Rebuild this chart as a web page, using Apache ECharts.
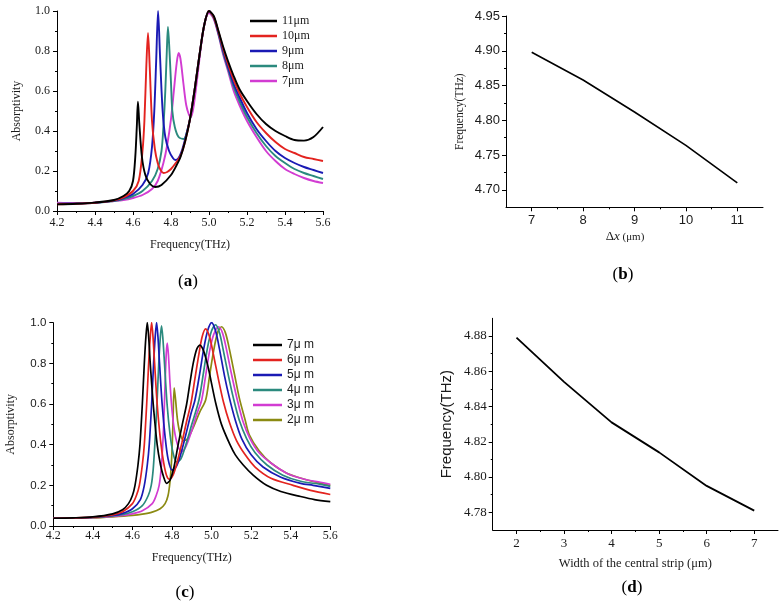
<!DOCTYPE html>
<html><head><meta charset="utf-8">
<script src="https://cdn.jsdelivr.net/npm/echarts@6/dist/echarts.min.js"></script>
<style>html,body{margin:0;padding:0;background:#fff}#c{width:784px;height:609px}</style>
</head><body><div id="c"></div>
<script>
// ---------- Panel (a): absorptivity vs frequency for different Δx ----------
const aNames = ['11μm', '10μm', '9μm', '8μm', '7μm'];
const a11 = [[4.20,0.033],[4.30,0.036],[4.40,0.042],[4.50,0.055],[4.55,0.075],[4.58,0.10],[4.60,0.15],[4.612,0.27],[4.62,0.42],[4.626,0.546],[4.633,0.44],[4.647,0.27],[4.665,0.18],[4.69,0.135],[4.717,0.12],[4.75,0.13],[4.80,0.18],[4.83,0.23],[4.85,0.27],[4.875,0.35],[4.90,0.46],[4.925,0.61],[4.95,0.78],[4.975,0.93],[5.00,1.00],[5.025,0.975],[5.05,0.90],[5.075,0.82],[5.10,0.75],[5.13,0.675],[5.16,0.61],[5.20,0.55],[5.25,0.485],[5.30,0.435],[5.35,0.40],[5.40,0.375],[5.45,0.355],[5.50,0.352],[5.55,0.37],[5.60,0.42]];
const a10 = [[4.20,0.034],[4.30,0.036],[4.40,0.041],[4.50,0.053],[4.55,0.068],[4.60,0.10],[4.63,0.15],[4.65,0.30],[4.66,0.45],[4.67,0.72],[4.679,0.89],[4.688,0.72],[4.70,0.45],[4.715,0.31],[4.73,0.24],[4.745,0.205],[4.761,0.19],[4.78,0.195],[4.80,0.21],[4.825,0.24],[4.85,0.275],[4.875,0.35],[4.90,0.46],[4.925,0.61],[4.95,0.78],[4.975,0.93],[5.00,1.00],[5.025,0.97],[5.05,0.895],[5.075,0.81],[5.10,0.735],[5.13,0.655],[5.16,0.59],[5.20,0.52],[5.25,0.445],[5.30,0.39],[5.35,0.345],[5.40,0.31],[5.45,0.29],[5.50,0.27],[5.55,0.26],[5.60,0.25]];
const a9 = [[4.20,0.035],[4.30,0.037],[4.40,0.041],[4.50,0.052],[4.55,0.065],[4.60,0.085],[4.65,0.13],[4.68,0.19],[4.70,0.32],[4.712,0.50],[4.722,0.75],[4.732,1.00],[4.742,0.78],[4.756,0.50],[4.77,0.37],[4.79,0.30],[4.81,0.265],[4.823,0.255],[4.84,0.265],[4.86,0.31],[4.88,0.38],[4.90,0.46],[4.925,0.61],[4.95,0.78],[4.975,0.93],[5.00,1.00],[5.025,0.97],[5.05,0.89],[5.075,0.80],[5.10,0.72],[5.13,0.635],[5.16,0.57],[5.20,0.49],[5.25,0.41],[5.30,0.35],[5.35,0.30],[5.40,0.265],[5.45,0.24],[5.50,0.22],[5.55,0.205],[5.60,0.19]];
const a8 = [[4.20,0.036],[4.30,0.038],[4.40,0.041],[4.50,0.05],[4.55,0.06],[4.60,0.075],[4.65,0.10],[4.70,0.15],[4.73,0.21],[4.75,0.30],[4.76,0.42],[4.77,0.60],[4.778,0.80],[4.784,0.92],[4.792,0.80],[4.80,0.64],[4.807,0.50],[4.82,0.42],[4.84,0.37],[4.867,0.36],[4.885,0.40],[4.90,0.46],[4.925,0.61],[4.95,0.78],[4.975,0.93],[5.00,1.00],[5.025,0.965],[5.05,0.885],[5.075,0.79],[5.10,0.71],[5.13,0.62],[5.16,0.55],[5.20,0.47],[5.25,0.39],[5.30,0.325],[5.35,0.275],[5.40,0.24],[5.45,0.21],[5.50,0.19],[5.55,0.175],[5.60,0.16]];
const a7 = [[4.20,0.042],[4.30,0.04],[4.40,0.042],[4.50,0.05],[4.55,0.055],[4.60,0.065],[4.65,0.08],[4.70,0.11],[4.73,0.15],[4.76,0.24],[4.78,0.33],[4.80,0.46],[4.815,0.60],[4.83,0.74],[4.84,0.79],[4.85,0.76],[4.865,0.64],[4.88,0.53],[4.895,0.48],[4.905,0.47],[4.92,0.53],[4.94,0.68],[4.96,0.84],[4.98,0.95],[5.00,0.99],[5.025,0.96],[5.05,0.88],[5.075,0.78],[5.10,0.70],[5.13,0.60],[5.16,0.53],[5.20,0.45],[5.25,0.37],[5.30,0.30],[5.35,0.25],[5.40,0.21],[5.45,0.185],[5.50,0.165],[5.55,0.15],[5.60,0.14]];

// ---------- Panel (b): resonance frequency vs Δx ----------
const bX = [7, 8, 9, 10, 11];
const bY = [4.898, 4.858, 4.812, 4.764, 4.710];
const bXTicks = [7, 8, 9, 10, 11];
const bXMinor = [7.5, 8.5, 9.5, 10.5];
const bYTicks = [4.70, 4.75, 4.80, 4.85, 4.90, 4.95];
const bYMinor = [4.725, 4.775, 4.825, 4.875, 4.925];

// ---------- Panel (c): absorptivity vs frequency for central strip width ----------
const cNames = ['7μ m', '6μ m', '5μ m', '4μ m', '3μ m', '2μ m'];
const c7 = [[4.2,0.038],[4.3,0.04],[4.4,0.045],[4.5,0.06],[4.55,0.08],[4.58,0.11],[4.6,0.15],[4.613,0.2],[4.628,0.3],[4.638,0.4],[4.65,0.6],[4.66,0.8],[4.668,0.93],[4.675,1.0],[4.682,0.93],[4.69,0.8],[4.705,0.6],[4.725,0.4],[4.742,0.3],[4.758,0.24],[4.773,0.21],[4.79,0.225],[4.81,0.29],[4.831,0.4],[4.852,0.5],[4.874,0.6],[4.89,0.7],[4.907,0.8],[4.925,0.87],[4.941,0.89],[4.96,0.86],[4.983,0.78],[5.0,0.70],[5.022,0.60],[5.05,0.50],[5.093,0.40],[5.12,0.35],[5.16,0.30],[5.21,0.25],[5.278,0.20],[5.35,0.17],[5.45,0.145],[5.52,0.13],[5.6,0.12]];
const c6 = [[4.2,0.038],[4.3,0.04],[4.4,0.044],[4.5,0.055],[4.55,0.07],[4.6,0.11],[4.62,0.15],[4.635,0.2],[4.65,0.3],[4.66,0.4],[4.672,0.6],[4.682,0.8],[4.69,0.93],[4.697,1.0],[4.704,0.93],[4.712,0.8],[4.725,0.6],[4.742,0.42],[4.758,0.31],[4.772,0.25],[4.787,0.23],[4.805,0.25],[4.825,0.31],[4.85,0.41],[4.875,0.52],[4.895,0.6],[4.915,0.72],[4.935,0.84],[4.952,0.93],[4.97,0.97],[4.99,0.93],[5.01,0.84],[5.035,0.72],[5.06,0.61],[5.09,0.51],[5.126,0.42],[5.17,0.35],[5.22,0.29],[5.3,0.235],[5.412,0.20],[5.5,0.175],[5.6,0.155]];
const c5 = [[4.2,0.038],[4.3,0.04],[4.4,0.043],[4.5,0.052],[4.55,0.062],[4.6,0.085],[4.64,0.13],[4.66,0.2],[4.675,0.3],[4.685,0.4],[4.697,0.6],[4.707,0.8],[4.715,0.93],[4.722,1.0],[4.729,0.93],[4.737,0.8],[4.75,0.6],[4.765,0.44],[4.78,0.33],[4.80,0.275],[4.82,0.29],[4.84,0.34],[4.87,0.45],[4.895,0.55],[4.916,0.62],[4.94,0.75],[4.96,0.87],[4.98,0.96],[5.0,1.0],[5.02,0.96],[5.04,0.87],[5.065,0.74],[5.09,0.63],[5.12,0.52],[5.152,0.43],[5.2,0.35],[5.26,0.29],[5.35,0.24],[5.45,0.21],[5.513,0.20],[5.6,0.185]];
const c4 = [[4.2,0.038],[4.3,0.04],[4.4,0.042],[4.5,0.05],[4.55,0.057],[4.6,0.07],[4.65,0.1],[4.68,0.15],[4.695,0.2],[4.705,0.28],[4.713,0.4],[4.724,0.6],[4.733,0.8],[4.741,0.93],[4.747,0.985],[4.754,0.92],[4.762,0.8],[4.775,0.6],[4.79,0.45],[4.805,0.36],[4.823,0.315],[4.845,0.33],[4.87,0.40],[4.9,0.50],[4.936,0.62],[4.96,0.76],[4.98,0.88],[5.0,0.96],[5.02,0.99],[5.04,0.95],[5.06,0.86],[5.085,0.74],[5.11,0.63],[5.14,0.52],[5.177,0.43],[5.22,0.36],[5.28,0.30],[5.36,0.25],[5.45,0.22],[5.55,0.205],[5.6,0.195]];
const c3 = [[4.2,0.038],[4.3,0.039],[4.4,0.041],[4.5,0.047],[4.55,0.052],[4.6,0.06],[4.65,0.075],[4.7,0.11],[4.72,0.15],[4.735,0.2],[4.745,0.28],[4.752,0.38],[4.758,0.5],[4.765,0.7],[4.771,0.85],[4.776,0.90],[4.782,0.84],[4.79,0.7],[4.8,0.57],[4.812,0.47],[4.828,0.40],[4.848,0.365],[4.87,0.39],[4.9,0.47],[4.925,0.55],[4.95,0.62],[4.97,0.74],[4.99,0.86],[5.01,0.94],[5.035,0.98],[5.055,0.95],[5.075,0.87],[5.1,0.75],[5.13,0.62],[5.16,0.51],[5.194,0.43],[5.24,0.36],[5.3,0.31],[5.38,0.26],[5.47,0.23],[5.55,0.215],[5.6,0.205]];
const c2 = [[4.2,0.038],[4.3,0.039],[4.4,0.04],[4.5,0.045],[4.6,0.052],[4.65,0.058],[4.7,0.068],[4.74,0.085],[4.765,0.11],[4.78,0.15],[4.79,0.22],[4.798,0.33],[4.804,0.48],[4.811,0.68],[4.818,0.62],[4.828,0.52],[4.842,0.45],[4.86,0.42],[4.88,0.43],[4.91,0.49],[4.94,0.56],[4.97,0.62],[4.99,0.74],[5.01,0.86],[5.03,0.95],[5.05,0.98],[5.07,0.95],[5.09,0.87],[5.115,0.75],[5.14,0.63],[5.17,0.52],[5.19,0.45],[5.24,0.37],[5.3,0.31],[5.38,0.26],[5.47,0.23],[5.55,0.21],[5.6,0.2]];

// ---------- Panel (d): resonance frequency vs central strip width ----------
const dX = [2, 3, 4, 5, 6, 7];
const dY = [4.879, 4.854, 4.831, 4.814, 4.795, 4.781];
const dXTicks = [2, 3, 4, 5, 6, 7];
const dXMinor = [2.5, 3.5, 4.5, 5.5, 6.5];
const dYTicks = [4.78, 4.80, 4.82, 4.84, 4.86, 4.88];
const dYMinor = [4.79, 4.81, 4.83, 4.85, 4.87];

const SERIF = '"Liberation Serif", "Times New Roman", serif';
const SANS = '"Liberation Sans", Arial, sans-serif';
const TXT = '#1a1a1a';
const aColors = ['#000000', '#e3231f', '#1a1ab4', '#2b8a7e', '#d23cd2'];
const cColors = ['#000000', '#e3231f', '#1a1ab4', '#2b8a7e', '#d23cd2', '#8b8a12'];

const line = { show: true, lineStyle: { color: '#000', width: 1 } };

function mainAxis(o) {
  const ax = {
    type: 'value', gridIndex: o.grid, min: o.min, max: o.max, position: o.pos,
    axisLine: line,
    axisTick: { show: true, inside: false, length: 4, lineStyle: { color: '#000', width: 1 } },
    splitLine: { show: false },
    axisLabel: { show: true, color: TXT, fontFamily: o.lf, fontSize: o.ls, margin: o.lm,
                 formatter: v => v.toFixed(o.dec) },
    name: o.name, nameLocation: 'middle', nameGap: o.ng,
    nameTextStyle: Object.assign({ color: TXT, fontFamily: o.nf, fontSize: o.ns }, o.nts || {})
  };
  if (o.interval) {
    ax.interval = o.interval;
    ax.minorTick = { show: true, splitNumber: 2, length: 2, lineStyle: { color: '#000', width: 1 } };
  }
  if (o.ticks) {
    ax.axisTick.customValues = o.ticks;
    ax.axisLabel.customValues = o.ticks;
  }
  return ax;
}
function minorAxis(grid, pos, min, max, vals) {
  return { type: 'value', gridIndex: grid, position: pos, offset: 0, min: min, max: max,
    axisLine: { show: false }, splitLine: { show: false }, axisLabel: { show: false },
    axisTick: { show: true, inside: false, length: 2, customValues: vals, lineStyle: { color: '#000', width: 1 } } };
}
function zip(xs, ys) { return xs.map((x, i) => [x, ys[i]]); }

const xAxes = [
  mainAxis({ grid: 0, pos: 'bottom', min: 4.2, max: 5.6, interval: 0.2, dec: 1, lf: SERIF, ls: 12, lm: 6,
    name: 'Frequency(THz)', nf: SERIF, ns: 12, ng: 28 }),
  mainAxis({ grid: 1, pos: 'bottom', min: 6.5, max: 11.5, ticks: bXTicks, dec: 0, lf: SANS, ls: 13, lm: 7,
    name: '{d|Δ}{x|x}{u| (μm)}', nf: SERIF, ns: 13, ng: 23,
    nts: { padding: [0, 19, 0, 0], rich: {
      d: { fontFamily: SERIF, fontSize: 13, color: TXT },
      x: { fontFamily: SERIF, fontSize: 13, fontStyle: 'italic', color: TXT },
      u: { fontFamily: SERIF, fontSize: 11, color: TXT } } } }),
  mainAxis({ grid: 2, pos: 'bottom', min: 4.2, max: 5.6, interval: 0.2, dec: 1, lf: SERIF, ls: 12, lm: 4,
    name: 'Frequency(THz)', nf: SERIF, ns: 12, ng: 26 }),
  mainAxis({ grid: 3, pos: 'bottom', min: 1.5, max: 7.5, ticks: dXTicks, dec: 0, lf: SERIF, ls: 13, lm: 7,
    name: 'Width of the central strip (μm)', nf: SERIF, ns: 12.5, ng: 27 }),
  minorAxis(1, 'bottom', 6.5, 11.5, bXMinor),
  minorAxis(3, 'bottom', 1.5, 7.5, dXMinor)
];
const yAxes = [
  mainAxis({ grid: 0, pos: 'left', min: 0, max: 1, interval: 0.2, dec: 1, lf: SERIF, ls: 12, lm: 7,
    name: 'Absorptivity', nf: SERIF, ns: 12, ng: 34 }),
  mainAxis({ grid: 1, pos: 'left', min: 4.675, max: 4.95, ticks: bYTicks, dec: 2, lf: SANS, ls: 13, lm: 6,
    name: 'Frequency(THz)', nf: SERIF, ns: 11.5, ng: 40 }),
  mainAxis({ grid: 2, pos: 'left', min: 0, max: 1, interval: 0.2, dec: 1, lf: SANS, ls: 11.5, lm: 7,
    name: 'Absorptivity', nf: SERIF, ns: 12, ng: 36 }),
  mainAxis({ grid: 3, pos: 'left', min: 4.77, max: 4.89, ticks: dYTicks, dec: 2, lf: SERIF, ls: 13, lm: 6,
    name: 'Frequency(THz)', nf: SANS, ns: 15, ng: 38 }),
  minorAxis(1, 'left', 4.675, 4.95, bYMinor),
  minorAxis(3, 'left', 4.77, 4.89, dYMinor)
];

const series = [];
[a11, a10, a9, a8, a7].forEach((d, i) => series.push({
  name: aNames[i], type: 'line', xAxisIndex: 0, yAxisIndex: 0, data: d,
  smooth: 0.3, symbol: 'none', color: aColors[i],
  lineStyle: { width: 1.9, color: aColors[i] }, z: 10 - i
}));
series.push({ name: 'b', type: 'line', xAxisIndex: 1, yAxisIndex: 1, data: zip(bX, bY),
  symbol: 'none', color: '#000', lineStyle: { width: 1.6, color: '#000' } });
[c7, c6, c5, c4, c3, c2].forEach((d, i) => series.push({
  name: cNames[i], type: 'line', xAxisIndex: 2, yAxisIndex: 2, data: d,
  smooth: 0.3, symbol: 'none', color: cColors[i],
  lineStyle: { width: 1.7, color: cColors[i] }, z: 10 - i
}));
series.push({ name: 'd', type: 'line', xAxisIndex: 3, yAxisIndex: 3, data: zip(dX, dY),
  symbol: 'none', color: '#000', lineStyle: { width: 1.8, color: '#000' } });

function caption(letter, x, y) {
  return { type: 'text', x: x, y: y, silent: true,
    style: { text: '{p|(}{b|' + letter + '}{p|)}', align: 'center', verticalAlign: 'middle',
      textAlign: 'center', textVerticalAlign: 'middle',
      rich: { p: { fontFamily: SERIF, fontSize: 17, color: '#000' },
              b: { fontFamily: SERIF, fontSize: 17, fontWeight: 'bold', color: '#000' } } } };
}

const option = {
  animation: false,
  backgroundColor: '#fff',
  grid: [
    { left: 57, top: 11, width: 266, height: 200 },
    { left: 506, top: 16, width: 257, height: 191.3 },
    { left: 53.3, top: 322.7, width: 277, height: 203.3 },
    { left: 492.7, top: 318.3, width: 285.3, height: 211.7 }
  ],
  xAxis: xAxes,
  yAxis: yAxes,
  legend: [
    { data: aNames, orient: 'vertical', left: 245, top: 10, itemWidth: 27, itemHeight: 2.5, itemGap: 3,
      icon: 'rect', textStyle: { fontFamily: SERIF, fontSize: 12, color: TXT, lineHeight: 12 } },
    { data: cNames, orient: 'vertical', left: 248, top: 334, itemWidth: 29, itemHeight: 2.5, itemGap: 3,
      icon: 'rect', textStyle: { fontFamily: SANS, fontSize: 12, color: TXT, lineHeight: 12 } }
  ],
  graphic: [caption('a', 188, 282), caption('b', 623, 275), caption('c', 185, 593), caption('d', 632, 588)],
  series: series
};
const chart = echarts.init(document.getElementById('c'), null, { renderer: 'canvas' });
chart.setOption(option);
</script></body></html>
